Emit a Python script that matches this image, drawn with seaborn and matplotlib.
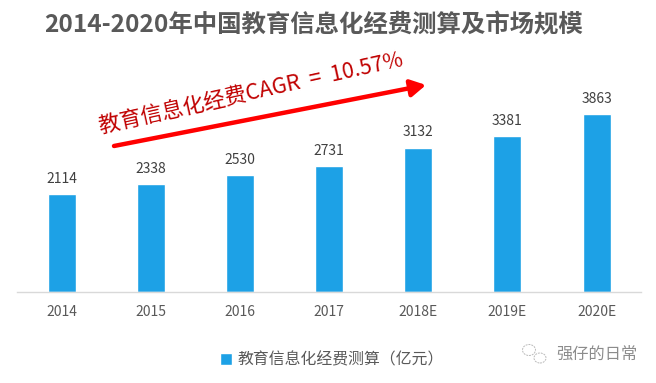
import matplotlib as mpl
mpl.use("Agg")
import matplotlib.pyplot as plt
from matplotlib.patches import Ellipse
import pandas as pd
import seaborn as sns

years = ["2014", "2015", "2016", "2017", "2018E", "2019E", "2020E"]
spending = [2114, 2338, 2530, 2731, 3132, 3381, 3863]
series_name = "教育信息化经费测算（亿元）"

if __name__ == "__main__":
    sns.set_theme(style="white")
    plt.rcParams["font.family"] = ["Noto Sans CJK SC", "DejaVu Sans"]

    df = pd.DataFrame({"year": years, "spending": spending, "series": series_name})

    fig = plt.figure(figsize=(6.56, 3.83), dpi=100)
    ax = fig.add_axes([17 / 656, (383 - 291.5) / 383, 624.2 / 656, 192 / 383])
    sns.barplot(data=df, x="year", y="spending", hue="series", palette=["#1DA1E6"],
                width=0.315, ax=ax, saturation=1)
    ax.set_ylim(0, 4180)
    ax.set_xlim(-0.5, 6.5)
    ax.set_xlabel("")
    ax.set_ylabel("")
    ax.set_yticks([])
    ax.tick_params(axis="x", length=0, labelsize=10, labelcolor="#595959", pad=10)
    sns.despine(ax=ax, left=True)
    ax.spines["bottom"].set_color("#D9D9D9")
    ax.spines["bottom"].set_linewidth(1.0)

    # value labels above the bars
    ax.bar_label(ax.containers[0], fmt="%d", padding=6, fontsize=10, color="#404040")

    # legend at the bottom
    ax.legend(loc="center", bbox_to_anchor=(332 / 656, 1 - 360 / 383),
              bbox_transform=fig.transFigure, frameon=False, fontsize=11.4,
              labelcolor="#595959", handlelength=0.8, handleheight=0.8, handletextpad=0.35)

    fig.text(44 / 656, 1 - 25 / 383, "2014-2020年中国教育信息化经费测算及市场规模",
             fontsize=17.6, fontweight="bold", color="#595959", va="center", ha="left")

    # growth arrow and its label
    ax.annotate("", xy=(426 / 656, 1 - 85 / 383), xytext=(114 / 656, 1 - 146 / 383),
                xycoords="figure fraction", textcoords="figure fraction",
                arrowprops=dict(arrowstyle="-|>,head_width=0.42,head_length=0.75",
                                color="#FF0000", lw=3.2, shrinkA=0, shrinkB=0))
    fig.text(251 / 656, 1 - 93 / 383, "教育信息化经费CAGR  =  10.57%", fontsize=15.5,
             color="#C00000", rotation=12.5, rotation_mode="anchor", ha="center", va="center")

    # watermark
    fig.add_artist(Ellipse((529 / 656, 1 - 350 / 383), 13 / 656, 11 / 383, fill=False,
                           ec="#BBBBBB", lw=0.7, ls=(0, (2, 1)), transform=fig.transFigure))
    fig.add_artist(Ellipse((540 / 656, 1 - 358 / 383), 12 / 656, 10 / 383, fill=False,
                           ec="#BBBBBB", lw=0.7, ls=(0, (2, 1)), transform=fig.transFigure))
    fig.text(556 / 656, 1 - 354 / 383, "强仔的日常", fontsize=11.7, color="#8C8C8C",
             va="center", ha="left")

    fig.savefig("out.png", dpi=100)
